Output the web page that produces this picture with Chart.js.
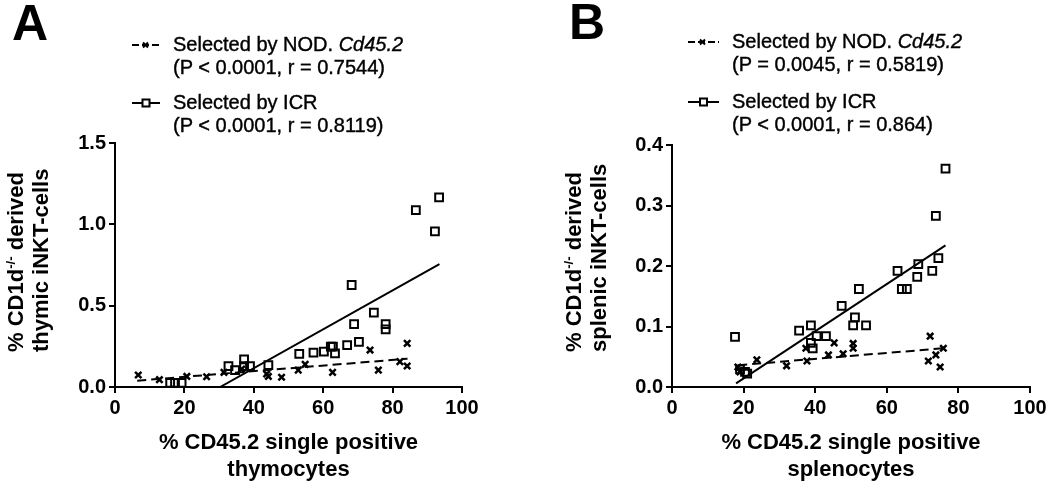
<!DOCTYPE html>
<html>
<head>
<meta charset="utf-8">
<script src="https://cdn.jsdelivr.net/npm/chart.js@4.4.1/dist/chart.umd.min.js"></script>
<style>
  body { margin: 0; background: #fff; font-family: 'Liberation Sans', Arial, sans-serif; color: #000; }
  #page { position: relative; width: 1050px; height: 485px; overflow: hidden; }
  .panel { position: absolute; top: 0; width: 525px; height: 485px; }
  .letter { position: absolute; font-weight: bold; font-size: 50px; line-height: 1; }
  .legend { position: absolute; font-size: 20px; line-height: 23px; white-space: nowrap; -webkit-text-stroke: 0.4px #000; }
  .legend svg { position: absolute; left: 0; top: 6px; }
  .legend .txt { position: absolute; }
  .ytitle { position: absolute; transform: rotate(-90deg); transform-origin: 0 0;
            font-weight: bold; font-size: 22px; line-height: 25px; white-space: nowrap; }
  .ytitle sup { font-size: 60%; vertical-align: 0.6em; line-height: 0; }
</style>
</head>
<body>
<div id="page">
  <canvas id="chartA" class="panel" style="left:0" width="525" height="485"></canvas>
  <canvas id="chartB" class="panel" style="left:525px" width="525" height="485"></canvas>

  <div class="letter" style="left:12px; top:-2px">A</div>
  <div class="letter" style="left:569px; top:-3px">B</div>

  <div class="legend" style="left:132px; top:33px">
    <svg width="30" height="12"><line x1="0" y1="6" x2="28" y2="6" stroke="#000" stroke-width="2" stroke-dasharray="7 3"/><path d="M11 3.5 L16 8.5 M16 3.5 L11 8.5" stroke="#000" stroke-width="2"/></svg>
    <div class="txt" style="left:41px">Selected by NOD. <i>Cd45.2</i><br>(P &lt; 0.0001, r = 0.7544)</div>
  </div>
  <div class="legend" style="left:132px; top:91px">
    <svg width="30" height="12"><line x1="0" y1="6" x2="28" y2="6" stroke="#000" stroke-width="2"/><rect x="10.5" y="2.5" width="7" height="7" fill="#fff" stroke="#000" stroke-width="2"/></svg>
    <div class="txt" style="left:41px">Selected by ICR<br>(P &lt; 0.0001, r = 0.8119)</div>
  </div>

  <div class="legend" style="left:688px; top:30px">
    <svg width="32" height="12"><line x1="0" y1="6" x2="31" y2="6" stroke="#000" stroke-width="2" stroke-dasharray="7 3"/><path d="M12 3.5 L17 8.5 M17 3.5 L12 8.5" stroke="#000" stroke-width="2"/></svg>
    <div class="txt" style="left:44px">Selected by NOD. <i>Cd45.2</i><br>(P = 0.0045, r = 0.5819)</div>
  </div>
  <div class="legend" style="left:688px; top:90px">
    <svg width="32" height="12"><line x1="0" y1="6" x2="31" y2="6" stroke="#000" stroke-width="2"/><rect x="12" y="2.5" width="7" height="7" fill="#fff" stroke="#000" stroke-width="2"/></svg>
    <div class="txt" style="left:44px">Selected by ICR<br>(P &lt; 0.0001, r = 0.864)</div>
  </div>

  <div class="ytitle" style="left:3px; top:352px">% CD1d<sup>-/-</sup> derived<br>thymic iNKT-cells</div>
  <div class="ytitle" style="left:561px; top:352px">% CD1d<sup>-/-</sup> derived<br>splenic iNKT-cells</div>
</div>

<script>
// Panel A - thymus
var thymusNodX = [6.7, 12.8, 20.7, 26.4, 31.4, 36.5, 43.7, 44.2, 48.0, 52.8, 54.8, 62.7, 73.5, 75.9, 82.1, 84.2, 84.2];
var thymusNodY = [0.074, 0.045, 0.065, 0.063, 0.09, 0.11, 0.08, 0.065, 0.06, 0.104, 0.139, 0.09, 0.227, 0.104, 0.156, 0.268, 0.129];
var thymusIcrX = [15.9, 17.3, 19.2, 32.7, 34.6, 37.2, 37.2, 38.9, 44.2, 53.1, 57.2, 60.2, 62.2, 62.8, 63.4, 66.9, 68.2, 68.9, 70.3, 74.6, 78.0, 78.0, 86.7, 92.2, 93.4];
var thymusIcrY = [0.026, 0.026, 0.026, 0.129, 0.104, 0.17, 0.129, 0.129, 0.135, 0.203, 0.211, 0.217, 0.248, 0.248, 0.207, 0.258, 0.627, 0.387, 0.278, 0.457, 0.387, 0.354, 1.088, 0.957, 1.166];
var thymusNodFitX = [6.4, 84.3];
var thymusNodFitY = [0.039, 0.174];
var thymusIcrFitX = [30.3, 93.5];
var thymusIcrFitY = [0, 0.756];

// Panel B - spleen
var spleenNodX = [18.4, 19.0, 23.7, 32.0, 37.4, 37.7, 43.7, 45.3, 47.8, 50.6, 50.6, 71.6, 72.1, 73.7, 74.9, 75.8];
var spleenNodY = [0.033, 0.025, 0.045, 0.035, 0.064, 0.043, 0.053, 0.073, 0.055, 0.072, 0.064, 0.043, 0.084, 0.053, 0.033, 0.064];
var spleenIcrX = [17.6, 19.0, 20.4, 21.0, 35.5, 38.8, 38.8, 39.3, 40.4, 43.0, 47.4, 50.6, 51.1, 52.2, 54.2, 63.0, 64.2, 65.6, 68.5, 68.8, 72.7, 73.7, 74.4, 76.4];
var spleenIcrY = [0.083, 0.029, 0.025, 0.022, 0.093, 0.102, 0.073, 0.064, 0.084, 0.084, 0.134, 0.102, 0.115, 0.162, 0.102, 0.192, 0.162, 0.162, 0.182, 0.203, 0.192, 0.283, 0.213, 0.361];
var spleenNodFitX = [18.5, 75.8];
var spleenNodFitY = [0.036, 0.064];
var spleenIcrFitX = [17.9, 76.4];
var spleenIcrFitY = [0.006, 0.234];

var xTitleA = ['% CD45.2 single positive', 'thymocytes'];
var xTitleB = ['% CD45.2 single positive', 'splenocytes'];

Chart.defaults.font.family = "'Liberation Sans', Arial, sans-serif";
Chart.defaults.color = '#000';

function toPoints(xs, ys){
    var pts = [];
    for (var i = 0; i < xs.length; i++){
        pts.push({x: xs[i], y: ys[i]});
    }
    return pts;
}

function makeDatasets(nodX, nodY, icrX, icrY, nodFitX, nodFitY, icrFitX, icrFitY){
    return [
        { data: toPoints(nodX, nodY), pointStyle: 'crossRot', pointRadius: 4.5, borderColor: '#000', borderWidth: 2.5, showLine: false },
        { data: toPoints(icrX, icrY), pointStyle: 'rect', pointRadius: 5.5, borderColor: '#000', backgroundColor: 'rgba(0,0,0,0)', borderWidth: 2, showLine: false },
        { data: toPoints(nodFitX, nodFitY), showLine: true, pointRadius: 0, borderColor: '#000', borderWidth: 2, borderDash: [9, 5], fill: false },
        { data: toPoints(icrFitX, icrFitY), showLine: true, pointRadius: 0, borderColor: '#000', borderWidth: 2, fill: false }
    ];
}

function makeChart(id, datasets, yMax, yStep, yWidth, padRight, padTop, xTitle){
    var ctx = document.getElementById(id).getContext('2d');
    return new Chart(ctx, {
        type: 'scatter',
        data: { datasets: datasets },
        options: {
            responsive: false,
            animation: false,
            devicePixelRatio: 1,
            layout: { padding: { left: 0, right: padRight, top: padTop, bottom: 0 } },
            plugins: { legend: { display: false }, tooltip: { enabled: false } },
            scales: {
                x: {
                    type: 'linear', min: 0, max: 100,
                    ticks: { stepSize: 20, autoSkip: false, maxRotation: 0, padding: 3, font: { size: 20, weight: 'bold' } },
                    grid: { drawOnChartArea: false, drawTicks: true, tickLength: 6, color: '#000', lineWidth: 2 },
                    border: { display: true, color: '#000', width: 2 },
                    title: { display: true, text: xTitle, font: { size: 22, weight: 'bold' }, padding: { top: 0, bottom: 2 } },
                    afterFit: function(scale){ scale.height = 98; }
                },
                y: {
                    type: 'linear', min: 0, max: yMax,
                    ticks: { stepSize: yStep, autoSkip: false, padding: 3, font: { size: 20, weight: 'bold' },
                             callback: function(v){ return v.toFixed(1); } },
                    grid: { drawOnChartArea: false, drawTicks: true, tickLength: 6, color: '#000', lineWidth: 2 },
                    border: { display: true, color: '#000', width: 2 },
                    afterFit: function(scale){ scale.width = yWidth; }
                }
            }
        }
    });
}

makeChart('chartA', makeDatasets(thymusNodX, thymusNodY, thymusIcrX, thymusIcrY, thymusNodFitX, thymusNodFitY, thymusIcrFitX, thymusIcrFitY),
          1.5, 0.5, 115, 63, 143, xTitleA);
makeChart('chartB', makeDatasets(spleenNodX, spleenNodY, spleenIcrX, spleenIcrY, spleenNodFitX, spleenNodFitY, spleenIcrFitX, spleenIcrFitY),
          0.4, 0.1, 147, 20, 145, xTitleB);
</script>
</body>
</html>
